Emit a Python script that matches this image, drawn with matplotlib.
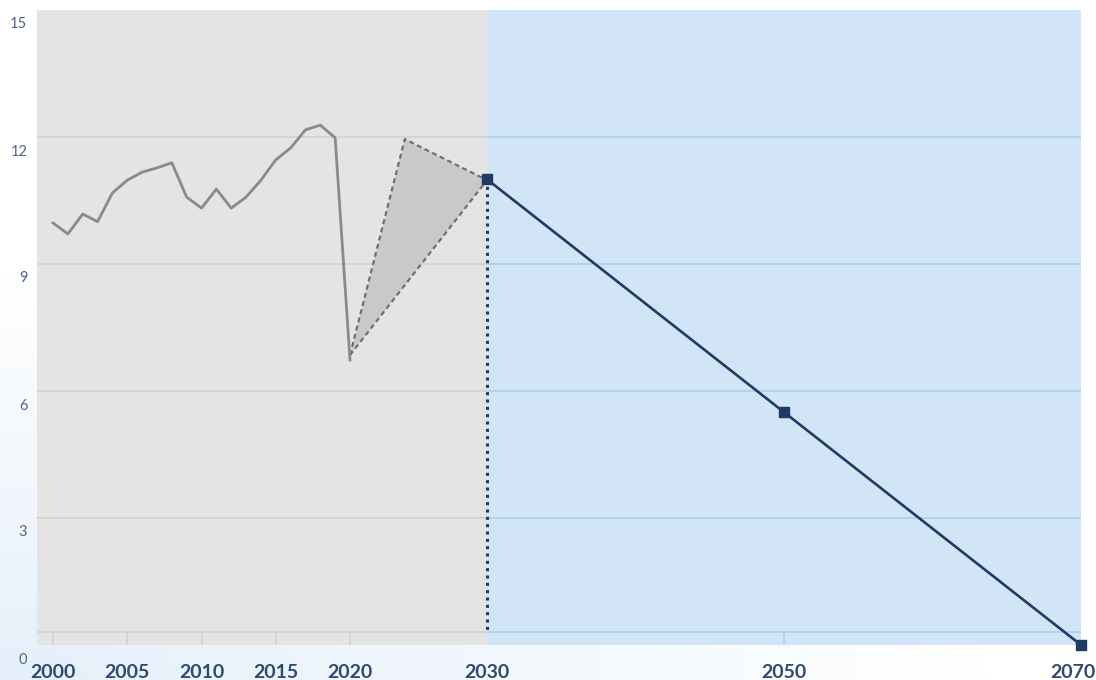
import numpy as np
import matplotlib
matplotlib.use('Agg')
import matplotlib.pyplot as plt
from matplotlib.transforms import ScaledTranslation

plt.rcParams['font.family'] = ['Lato', 'DejaVu Sans']

# historical series, 2000-2020
hist_years = list(range(2000, 2021))
hist_vals = [9.97, 9.71, 10.18, 10.0, 10.68, 10.98, 11.17, 11.27, 11.39, 10.58,
             10.32, 10.77, 10.32, 10.58, 10.98, 11.46, 11.74, 12.17, 12.28, 11.98,
             6.73]

# recovery range (shaded triangle)
bridge_years = [2020, 2024, 2030]
bridge_vals = [6.85, 11.95, 10.98]

# projection path
proj_years = [2030, 2050, 2070]
proj_vals = [11.0, 5.5, 0.0]

xtick_years = [2000, 2005, 2010, 2015, 2020, 2030, 2050, 2070]
ytick_vals = [0, 3, 6, 9, 12, 15]
grid_vals = [3, 6, 9, 12]

# the x axis is slightly compressed between 2020 and 2030
scale_years = [1998.92, 2020, 2030, 2070]
scale_pos = [37, 350, 487, 1081]

def fwd(x):
    return np.interp(x, scale_years, scale_pos)

def inv(x):
    return np.interp(x, scale_pos, scale_years)

fig = plt.figure(figsize=(10.96, 6.8), dpi=100)

# faint background gradient
bg = fig.add_axes([0, 0, 1, 1], zorder=-5)
gx, gy = np.meshgrid(np.linspace(0, 1, 200), np.linspace(0, 1, 200))
d = np.clip(1 - np.sqrt((gx / 0.9) ** 2 + (gy / 0.6) ** 2), 0, 1)
c0 = np.array([1.0, 1.0, 1.0])
c1 = np.array([0.90, 0.94, 0.98])
img = c0[None, None, :] * (1 - d[..., None]) + c1[None, None, :] * d[..., None]
bg.imshow(img, origin='lower', extent=[0, 1, 0, 1], aspect='auto')
bg.axis('off')

ax = fig.add_axes([37 / 1096, 35 / 680, 1044 / 1096, 635 / 680])
ax.set_xscale('function', functions=(fwd, inv))
x0, x1 = scale_years[0], scale_years[-1]
ax.set_xlim(x0, x1)
ax.set_ylim(0, 15)

gray_bg = '#e4e4e4'
blue_bg = '#d2e5f6'
navy = '#1f3b63'
gray_line = '#d0d0d0'
blue_line = '#a9cdee'
ax.axvspan(x0, 2030, color=gray_bg, lw=0, zorder=0)
ax.axvspan(2030, x1, color=blue_bg, lw=0, zorder=0)

ax.hlines(grid_vals, x0, 2030, color=gray_line, lw=1.1, zorder=1)
ax.hlines(grid_vals, 2030, x1, color=blue_line, lw=1.1, zorder=1)
ax.hlines([0.3], x0, 2030, color=gray_line, lw=1.1, zorder=1)
ax.hlines([0.3], 2030, x1, color=blue_line, lw=1.1, zorder=1)

# small tick marks below the baseline
past_ticks = [y for y in xtick_years if y < 2030]
ax.vlines(past_ticks, 0, 0.3, color=gray_line, lw=1.1, zorder=1)
ax.vlines([2050], 0, 0.3, color=blue_line, lw=1.1, zorder=1)

# shaded recovery range
ax.fill(bridge_years, bridge_vals, color='#c9c9c9', lw=0, zorder=2)
ax.plot(bridge_years + [bridge_years[0]], bridge_vals + [bridge_vals[0]],
        color='#707070', lw=1.6, ls=(0, (2.2, 1.6)), zorder=3)

ax.plot(hist_years, hist_vals, color='#8a8a8a', lw=2.0, zorder=4)

ax.plot([proj_years[0], proj_years[0]], [proj_vals[0], 0.3], color=navy,
        lw=2.2, ls=(0, (1, 1.4)), dash_capstyle='butt', zorder=4)
ax.plot(proj_years, proj_vals, color=navy, lw=1.9, marker='s', ms=7.5,
        zorder=5, clip_on=False)

for s in ax.spines.values():
    s.set_visible(False)

ax.set_xticks(xtick_years)
ax.set_xticklabels([str(y) for y in xtick_years], fontweight='bold')
ax.tick_params(axis='x', length=0, pad=14, labelsize=14, labelcolor='#2e4a6e')
lab = ax.get_xticklabels()[-1]
lab.set_transform(lab.get_transform() + ScaledTranslation(-8 / 100, 0, fig.dpi_scale_trans))

ax.set_yticks(ytick_vals)
ax.set_yticklabels([str(v) for v in ytick_vals])
ax.tick_params(axis='y', length=0, pad=7, labelsize=10.5, labelcolor='#4d6686')
for lab in ax.get_yticklabels():
    lab.set_transform(lab.get_transform() + ScaledTranslation(0, -13 / 100, fig.dpi_scale_trans))

fig.savefig('out.png', dpi=100)
